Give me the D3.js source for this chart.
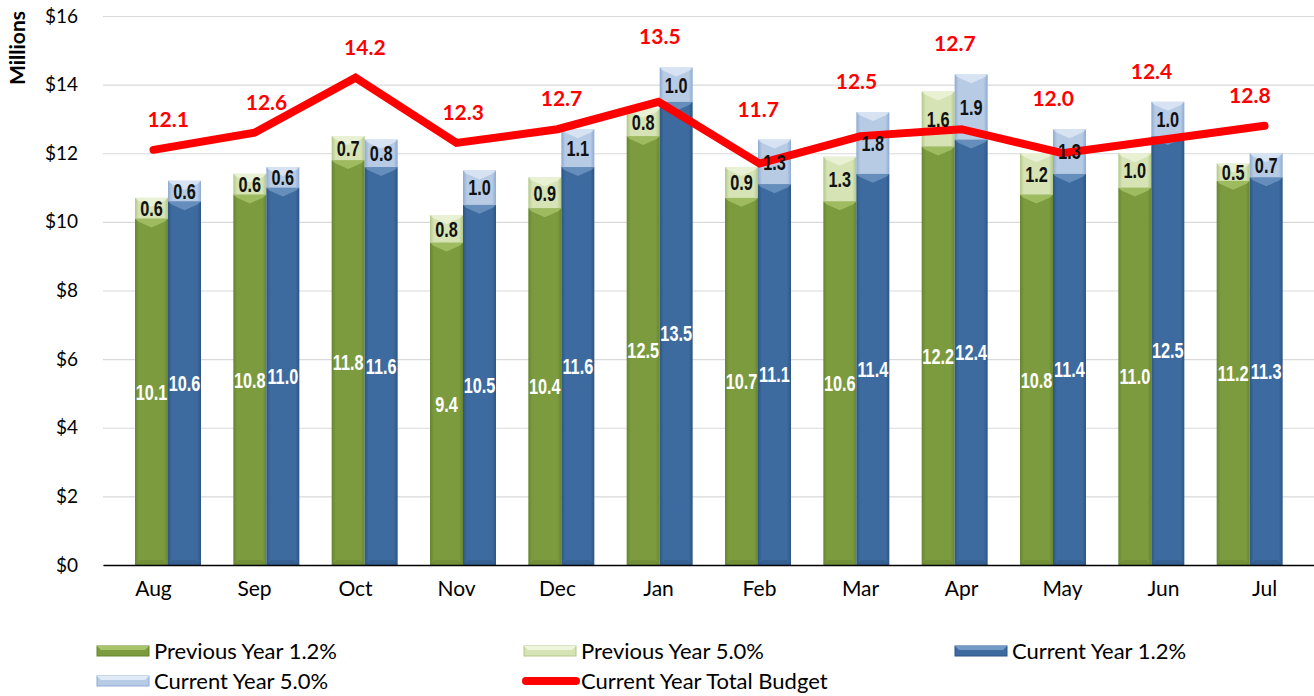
<!DOCTYPE html>
<html>
<head>
<meta charset="utf-8">
<script src="https://cdn.jsdelivr.net/npm/d3@7"></script>
<style>
  body { margin: 0; background: #fff; }
  svg { display: block; font-family: Lato, "Open Sans", sans-serif; }
  .seg-label { font-family: "Liberation Sans", Arial, sans-serif; font-weight: bold; }
</style>
</head>
<body>
<div id="chart"></div>
<script>
const months = ["Aug", "Sep", "Oct", "Nov", "Dec", "Jan", "Feb", "Mar", "Apr", "May", "Jun", "Jul"];
const prevYear12 = [10.1, 10.8, 11.8, 9.4, 10.4, 12.5, 10.7, 10.6, 12.2, 10.8, 11.0, 11.2];
const prevYear50 = [0.6, 0.6, 0.7, 0.8, 0.9, 0.8, 0.9, 1.3, 1.6, 1.2, 1.0, 0.5];
const currYear12 = [10.6, 11.0, 11.6, 10.5, 11.6, 13.5, 11.1, 11.4, 12.4, 11.4, 12.5, 11.3];
const currYear50 = [0.6, 0.6, 0.8, 1.0, 1.1, 1.0, 1.3, 1.8, 1.9, 1.3, 1.0, 0.7];
const totalBudget = [12.1, 12.6, 14.2, 12.3, 12.7, 13.5, 11.7, 12.5, 12.7, 12.0, 12.4, 12.8];
const yTicks = [0, 2, 4, 6, 8, 10, 12, 14, 16];

const W = 1314, H = 696;

const svg = d3.select('#chart')
    .append('svg')
    .attr('width', W)
    .attr('height', H);

const defs = svg.append('defs');

// bevel-ish colour sets for each series segment
const palettes = {
    p12: { edge: '#66852f', base: '#7c9b3e', hi: '#a9c56c' },
    p50: { edge: '#b3c888', base: '#d5e3b5', hi: '#eef5dd' },
    c12: { edge: '#2d5585', base: '#3d6b9f', hi: '#7399c6' },
    c50: { edge: '#8eabd2', base: '#b7cbe5', hi: '#e1ebf7' }
};

Object.entries(palettes).forEach(([key, p]) => {
    const g = defs.append('linearGradient')
        .attr('id', 'grad-' + key)
        .attr('x1', '0%').attr('x2', '100%')
        .attr('y1', '0%').attr('y2', '0%');
    g.append('stop').attr('offset', '0%').attr('stop-color', p.edge);
    g.append('stop').attr('offset', '12%').attr('stop-color', p.base);
    g.append('stop').attr('offset', '88%').attr('stop-color', p.base);
    g.append('stop').attr('offset', '100%').attr('stop-color', p.edge);
});

// scales (bars sit on a slightly narrower band than the category labels / line)
const y = d3.scaleLinear().domain([0, 16]).range([565, 16]);
const xCat = d3.scaleBand().domain(months).range([103, 1315]);
const xBar = d3.scaleBand().domain(months).range([119, 1299]);
const xSub = d3.scaleBand().domain(['prev', 'curr']).range([16, 82]);

// gridlines
svg.append('g')
    .attr('transform', 'translate(103,0)')
    .call(d3.axisLeft(y).tickValues(yTicks).tickSize(-1211).tickFormat(''))
    .call(g => g.select('.domain').remove())
    .call(g => g.selectAll('line').attr('stroke', '#d9d9d9').attr('stroke-width', 1.2));

// y axis labels
svg.append('g')
    .attr('transform', 'translate(81,0)')
    .call(d3.axisLeft(y).tickValues(yTicks).tickSize(0).tickFormat(d => '$' + d))
    .call(g => g.select('.domain').remove())
    .call(g => g.selectAll('text').attr('font-size', 19).attr('fill', '#000')
        .attr('font-family', 'Lato, sans-serif'));

svg.append('text')
    .attr('transform', 'translate(25,48) rotate(-90)')
    .attr('text-anchor', 'middle')
    .attr('font-size', 21)
    .attr('font-weight', 'bold')
    .text('Millions');

// build stacked segments
const series = [
    { key: 'prev', low: prevYear12, high: prevYear50, lowPal: 'p12', highPal: 'p50' },
    { key: 'curr', low: currYear12, high: currYear50, lowPal: 'c12', highPal: 'c50' }
];

const segments = [];
series.forEach(s => {
    months.forEach((m, i) => {
        const x0 = xBar(m) + xSub(s.key);
        segments.push({ m, x0, y0: 0, y1: s.low[i], pal: s.lowPal, label: s.low[i], low: true });
        segments.push({ m, x0, y0: s.low[i], y1: s.low[i] + s.high[i], pal: s.highPal, label: s.high[i], low: false });
    });
});

const bw = xSub.bandwidth();
const bars = svg.append('g');

bars.selectAll('rect')
    .data(segments)
    .enter()
    .append('rect')
    .attr('x', d => d.x0)
    .attr('y', d => y(d.y1))
    .attr('width', bw)
    .attr('height', d => y(d.y0) - y(d.y1))
    .attr('fill', d => `url(#grad-${ d.pal })`);

// top bevel chevrons
bars.selectAll('path.bevel')
    .data(segments)
    .enter()
    .append('path')
    .attr('class', 'bevel')
    .attr('d', d => {
        const t = y(d.y1), l = d.x0, r = d.x0 + bw;
        return `M${ l },${ t }L${ r },${ t }L${ r - 3 },${ t + 3 }L${ l + bw / 2 },${ t + 9 }L${ l + 3 },${ t + 3 }Z`;
    })
    .attr('fill', d => palettes[d.pal].hi)
    .attr('opacity', 0.75);

// bottom bevel
bars.selectAll('path.bbevel')
    .data(segments.filter(d => d.low))
    .enter()
    .append('path')
    .attr('class', 'bbevel')
    .attr('d', d => {
        const b = y(0), l = d.x0, r = d.x0 + bw;
        return `M${ l },${ b }L${ r },${ b }L${ r - 5 },${ b - 5 }L${ l + 5 },${ b - 5 }Z`;
    })
    .attr('fill', d => palettes[d.pal].edge)
    .attr('opacity', 0.5);

// x axis
svg.append('g')
    .attr('transform', 'translate(0,565)')
    .call(d3.axisBottom(xCat).tickSize(0).tickSizeOuter(0))
    .call(g => g.select('.domain').attr('stroke', '#000').attr('stroke-width', 1.5))
    .call(g => g.selectAll('text').attr('font-size', 21).attr('fill', '#000')
        .attr('font-family', 'Lato, sans-serif').attr('dy', '1.35em'));

// total budget line
const line = d3.line()
    .x((d, i) => xCat(months[i]) + xCat.bandwidth() / 2)
    .y(d => y(d));

svg.append('path')
    .datum(totalBudget)
    .attr('d', line)
    .attr('fill', 'none')
    .attr('stroke', '#ff0000')
    .attr('stroke-width', 8)
    .attr('stroke-linecap', 'round')
    .attr('stroke-linejoin', 'miter');

// segment labels (narrowed to mimic a condensed bold face)
svg.append('g')
    .selectAll('text')
    .data(segments)
    .enter()
    .append('text')
    .attr('class', 'seg-label')
    .attr('transform', d => `translate(${ d.x0 + bw / 2 },${ (y(d.y0) + y(d.y1)) / 2 }) scale(0.74,1)`)
    .attr('dy', '0.36em')
    .attr('text-anchor', 'middle')
    .attr('font-size', 22)
    .attr('fill', d => d.low ? '#fff' : '#111')
    .text(d => d.label.toFixed(1));

// line labels, centred over each month's bar pair and lifted clear of line and bars
const labelTop = i => Math.min(
    y(totalBudget[i]),
    y(prevYear12[i] + prevYear50[i]),
    y(currYear12[i] + currYear50[i])
);

svg.append('g')
    .selectAll('text')
    .data(totalBudget)
    .enter()
    .append('text')
    .attr('x', (d, i) => xBar(months[i]) + xBar.bandwidth() / 2)
    .attr('y', (d, i) => labelTop(i) - 23)
    .attr('text-anchor', 'middle')
    .attr('font-size', 21)
    .attr('font-weight', 'bold')
    .attr('fill', '#ff0000')
    .text(d => d.toFixed(1));

// legend
const legendItems = [
    { name: 'Previous Year 1.2%', pal: 'p12', x: 97, y: 651 },
    { name: 'Previous Year 5.0%', pal: 'p50', x: 524, y: 651 },
    { name: 'Current Year 1.2%', pal: 'c12', x: 955, y: 651 },
    { name: 'Current Year 5.0%', pal: 'c50', x: 97, y: 681 },
    { name: 'Current Year Total Budget', line: true, x: 524, y: 681 }
];

const legend = svg.append('g');
legendItems.forEach(it => {
    const g = legend.append('g').attr('transform', `translate(${ it.x },${ it.y })`);
    if (it.line) {
        g.append('line')
            .attr('x1', 2).attr('x2', 52)
            .attr('y1', 0).attr('y2', 0)
            .attr('stroke', '#ff0000')
            .attr('stroke-width', 8)
            .attr('stroke-linecap', 'round');
    } else {
        const p = palettes[it.pal];
        g.append('rect')
            .attr('x', 0).attr('y', -5)
            .attr('width', 52).attr('height', 10)
            .attr('fill', p.base)
            .attr('stroke', p.edge)
            .attr('stroke-width', 1);
        g.append('path')
            .attr('d', 'M0,-5L52,-5L48,-1L4,-1Z')
            .attr('fill', p.hi);
    }
    g.append('text')
        .attr('x', 57)
        .attr('dy', '0.35em')
        .attr('font-size', 22)
        .text(it.name);
});
</script>
</body>
</html>
